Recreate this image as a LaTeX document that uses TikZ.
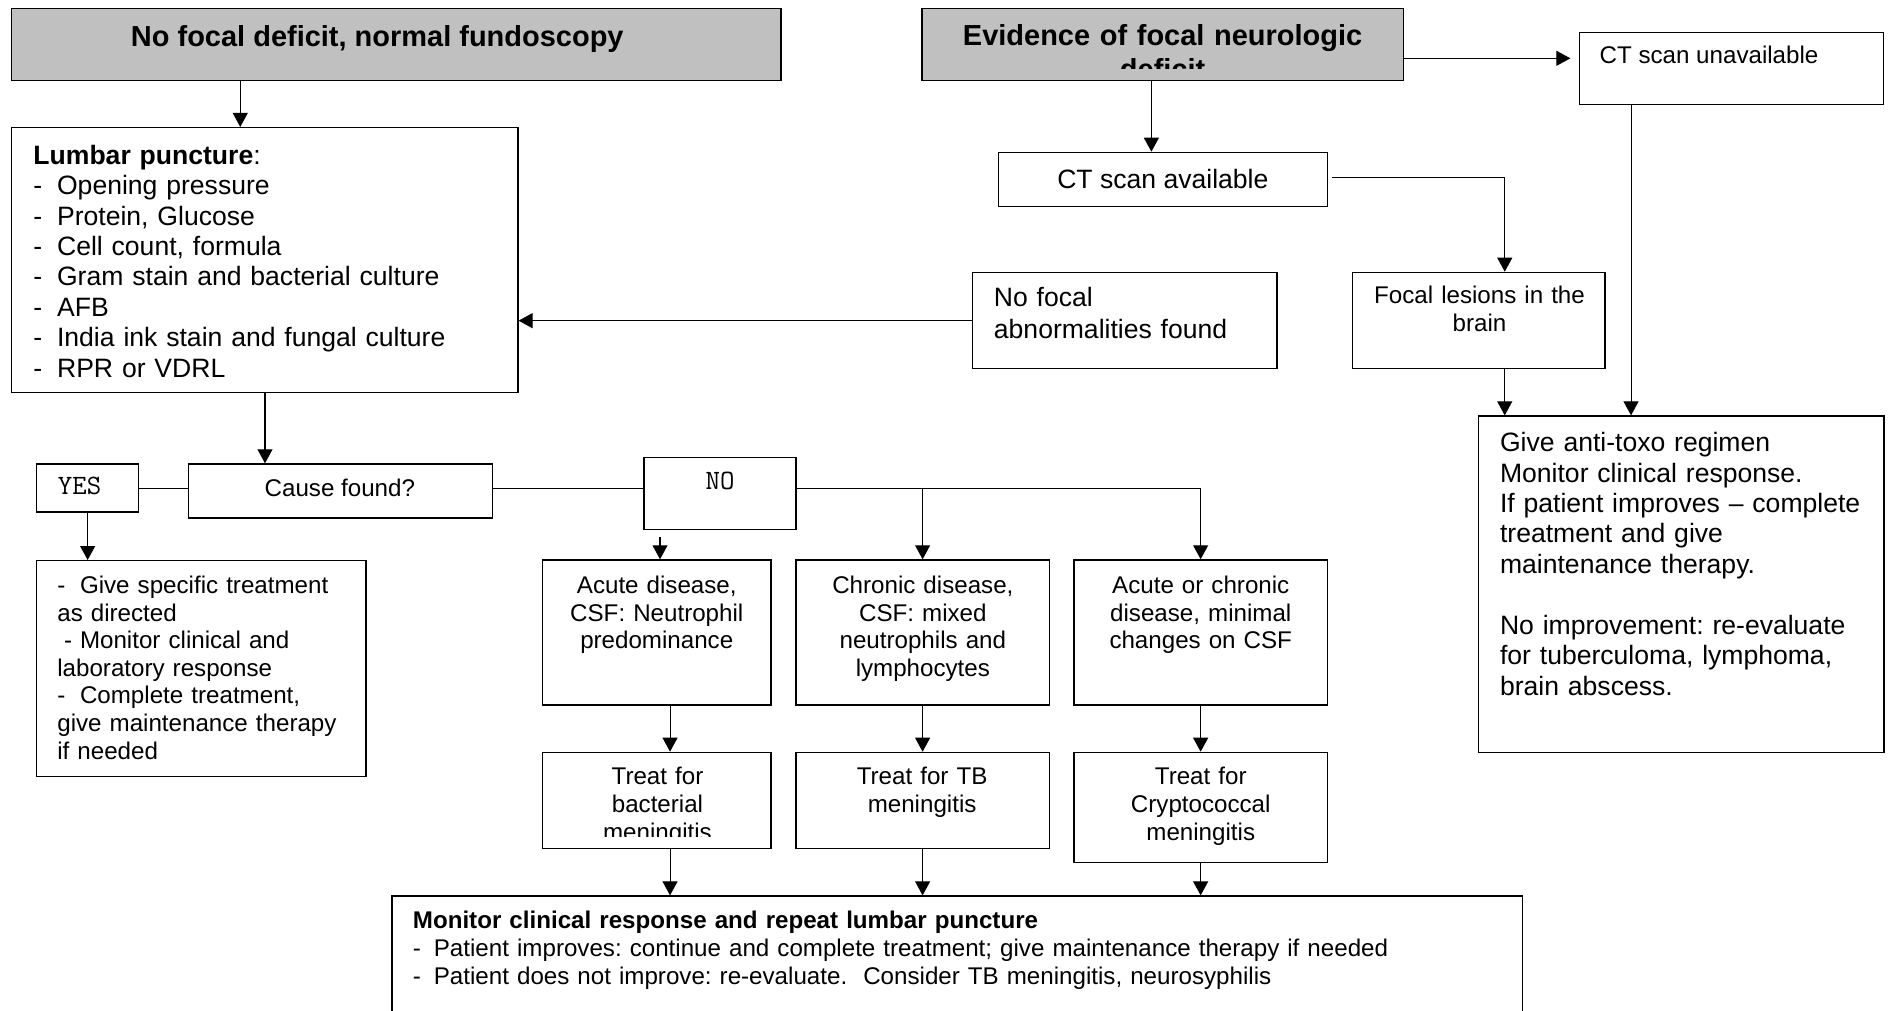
\documentclass[tikz,border=0pt]{standalone}
\usepackage{fontspec}
\setmainfont{Liberation Sans}
\usetikzlibrary{arrows.meta,fit}
\definecolor{hdrgray}{RGB}{192,192,192}
\frenchspacing
\tikzset{
  box/.style={draw, line width=0.55pt, inner sep=0pt},
  hdr/.style={box, fill=hdrgray},
  conn/.style={line width=0.45pt},
  arr/.style={conn, -{Triangle[length=5.8pt,width=6.2pt]}},
  txt/.style={inner sep=0pt, outer sep=0pt},
  ften/.style={font=\fontsize{10}{11.45}\selectfont},
  fel/.style={font=\fontsize{11}{12.6}\selectfont},
  fmono/.style={font=\ttfamily\fontsize{11.6}{13}\selectfont},
  fhead/.style={font=\bfseries\fontsize{12}{14.4}\selectfont},
}
\begin{document}
\begin{tikzpicture}[x=0.5pt,y=-0.5pt]
\useasboundingbox (0,0) rectangle (1568,837);
\fill[white] (0,0) rectangle (1568,837);
\clip (0,0) rectangle (1568,837);

% ---------- boxes ----------
\node[hdr, fit={(9.6,6.9) (647,66.5)}] (h1) {};
\node[hdr, fit={(763.8,6.9) (1162.5,66.8)}] (h2) {};
\node[box, fit={(9.6,105.7) (429,325.2)}] (lp) {};
\node[box, fit={(1308.3,26.8) (1560.1,86.4)}] (ctu) {};
\node[box, fit={(826.8,126.2) (1099.6,171)}] (cta) {};
\node[box, fit={(805.7,225.6) (1057.7,305.4)}] (nof) {};
\node[box, fit={(1120.5,225.6) (1329.3,305.1)}] (foc) {};
\node[box, fit={(1224.8,344.6) (1560.5,623.4)}] (atx) {};
\node[box, fit={(30.4,384.3) (114.9,424.1)}] (yes) {};
\node[box, fit={(156.3,384.3) (408.1,429.1)}] (cause) {};
\node[box, fit={(533.4,378.8) (659.3,438.4)}] (no) {};
\node[box, fit={(30.4,464.4) (303.2,643.3)}] (give) {};
\node[box, fit={(449.5,463.8) (638.6,584)}] (acu) {};
\node[box, fit={(659.3,463.8) (869.2,584)}] (chr) {};
\node[box, fit={(889.6,463.8) (1099.7,584)}] (aoc) {};
\node[box, fit={(449.5,623.2) (638.6,702.7)}] (tb1) {};
\node[box, fit={(659.3,623.2) (869.2,702.7)}] (tb2) {};
\node[box, fit={(889.6,623.2) (1099.7,714.5)}] (tb3) {};
\node[box, fit={(324.8,742.2) (1261,900)}] (mon) {};

% ---------- lanes for connectors ----------
\coordinate (xLP) at (199,0);
\coordinate (xCTA) at (953.7,0);
\coordinate (yCTU) at (0,48.3);
\coordinate (yCTA) at (0,147.2);
\coordinate (xFOC) at (1246.4,0);
\coordinate (xCTU) at (1351,0);
\coordinate (yNOF) at (0,265.6);
\coordinate (xCAU) at (219.5,0);
\coordinate (yROW) at (0,404.5);
\coordinate (xYES) at (72.6,0);
\coordinate (xACU) at (555,0);
\coordinate (xCHR) at (764.2,0);
\coordinate (xAOC) at (994.5,0);
\coordinate (sa) at (546.7,445);

% ---------- connectors ----------
\draw[arr] (h1.south -| xLP) -- (lp.north -| xLP);
\draw[arr] (h2.south -| xCTA) -- (cta.north -| xCTA);
\draw[arr, shorten >=3.5pt] (h2.east |- yCTU) -- (ctu.west |- yCTU);
\draw[arr, shorten <=1.7pt] (cta.east |- yCTA) -- (xFOC |- yCTA) -- (foc.north -| xFOC);
\draw[arr] (foc.south -| xFOC) -- (atx.north -| xFOC);
\draw[arr] (ctu.south -| xCTU) -- (atx.north -| xCTU);
\draw[arr] (nof.west |- yNOF) -- (lp.east |- yNOF);
\draw[arr] (lp.south -| xCAU) -- (cause.north -| xCAU);
\draw[conn] (yes.east |- yROW) -- (cause.west |- yROW);
\draw[conn] (cause.east |- yROW) -- (no.west |- yROW);
\draw[arr] (no.east |- yROW) -- (xAOC |- yROW) -- (aoc.north -| xAOC);
\draw[arr] (xCHR |- yROW) -- (chr.north -| xCHR);
\draw[arr] (sa) -- (acu.north -| sa);
\draw[arr] (yes.south -| xYES) -- (give.north -| xYES);
\draw[arr] (acu.south -| xACU) -- (tb1.north -| xACU);
\draw[arr] (chr.south -| xCHR) -- (tb2.north -| xCHR);
\draw[arr] (aoc.south -| xAOC) -- (tb3.north -| xAOC);
\draw[arr] (tb1.south -| xACU) -- (mon.north -| xACU);
\draw[arr] (tb2.south -| xCHR) -- (mon.north -| xCHR);
\draw[arr] (tb3.south -| xAOC) -- (mon.north -| xAOC);

% ---------- texts ----------
\node[txt, fhead, anchor=base] (h1T) at (312.5,38.7) {No focal deficit, normal fundoscopy};
\begin{scope}
  \clip (763.8,6.9) rectangle (1162.5,56.6);
  \node[txt, fhead, text width=185pt, align=center, anchor=base] (h2T) at (963,37.3)
    {Evidence of focal neurologic\\deficit};
\end{scope}

\node[txt, fel, text width=200pt, align=left, anchor=base west] (lpT) at (27.7,136)
  {\textbf{Lumbar puncture}:\\
   \makebox[9.8pt][l]{-}Opening pressure\\
   \makebox[9.8pt][l]{-}Protein, Glucose\\
   \makebox[9.8pt][l]{-}Cell count, formula\\
   \makebox[9.8pt][l]{-}Gram stain and bacterial culture\\
   \makebox[9.8pt][l]{-}AFB\\
   \makebox[9.8pt][l]{-}India ink stain and fungal culture\\
   \makebox[9.8pt][l]{-}RPR or VDRL};

\node[txt, ften, anchor=base west] (ctuT) at (1325,52.4) {CT scan unavailable};
\node[txt, font=\fontsize{11}{12.6}\selectfont, anchor=base] (ctaT) at (963.2,156) {CT scan available};
\node[txt, font=\fontsize{11}{13.1}\selectfont, text width=120pt, align=left, anchor=base west] (nofT) at (823.3,254)
  {No focal\\abnormalities found};
\node[txt, font=\fontsize{10}{11.75}\selectfont, text width=100pt, align=center, anchor=base] (focT) at (1225.5,251.2)
  {Focal lesions in the\\brain};
\node[txt, fel, text width=160pt, align=left, anchor=base west] (atxT) at (1242.5,374.1)
  {Give anti-toxo regimen\\
   Monitor clinical response.\\
   If patient improves -- complete\\
   treatment and give\\
   maintenance therapy.\\[12.6pt]
   No improvement: re-evaluate\\
   for tuberculoma, lymphoma,\\
   brain abscess.};

\node[txt, fmono, anchor=base west] (yesT) at (48,410) {YES};
\node[txt, ften, anchor=base] (causeT) at (281.5,411.4) {Cause found?};
\node[txt, fmono, anchor=base] (noT) at (596.4,405.3) {NO};

\node[txt, ften, text width=130pt, align=left, anchor=base west] (giveT) at (47.5,491.5)
  {\makebox[9.4pt][l]{-}Give specific treatment\\
   as directed\\
   \makebox[9.4pt][l]{\hspace{2.78pt}-}Monitor clinical and\\
   laboratory response\\
   \makebox[9.4pt][l]{-}Complete treatment,\\
   give maintenance therapy\\
   if needed};

\node[txt, ften, text width=92pt, align=center, anchor=base] (acuT) at (544,491.5)
  {Acute disease,\\CSF: Neutrophil\\predominance};
\node[txt, ften, text width=100pt, align=center, anchor=base] (chrT) at (764.4,491.5)
  {Chronic disease,\\CSF: mixed\\neutrophils and\\lymphocytes};
\node[txt, ften, text width=100pt, align=center, anchor=base] (aocT) at (994.6,491.5)
  {Acute or chronic\\disease, minimal\\changes on CSF};

\begin{scope}
  \clip (449.5,623.2) rectangle (638.6,693);
  \node[txt, ften, text width=92pt, align=center, anchor=base] (tb1T) at (544.6,650.2)
    {Treat for\\bacterial\\meningitis};
\end{scope}
\node[txt, ften, text width=100pt, align=center, anchor=base] (tb2T) at (763.8,650.2)
  {Treat for TB\\meningitis};
\node[txt, ften, text width=100pt, align=center, anchor=base] (tb3T) at (994.6,650.2)
  {Treat for\\Cryptococcal\\meningitis};

\node[txt, font=\fontsize{10}{11.7}\selectfont, text width=440pt, align=left, anchor=base west] (monT) at (342,769)
  {\textbf{Monitor clinical response and repeat lumbar puncture}\\
   \makebox[8.7pt][l]{-}Patient improves: continue and complete treatment; give maintenance therapy if needed\\
   \makebox[8.7pt][l]{-}Patient does not improve: re-evaluate.\ \ Consider TB meningitis, neurosyphilis};
\end{tikzpicture}
\end{document}
